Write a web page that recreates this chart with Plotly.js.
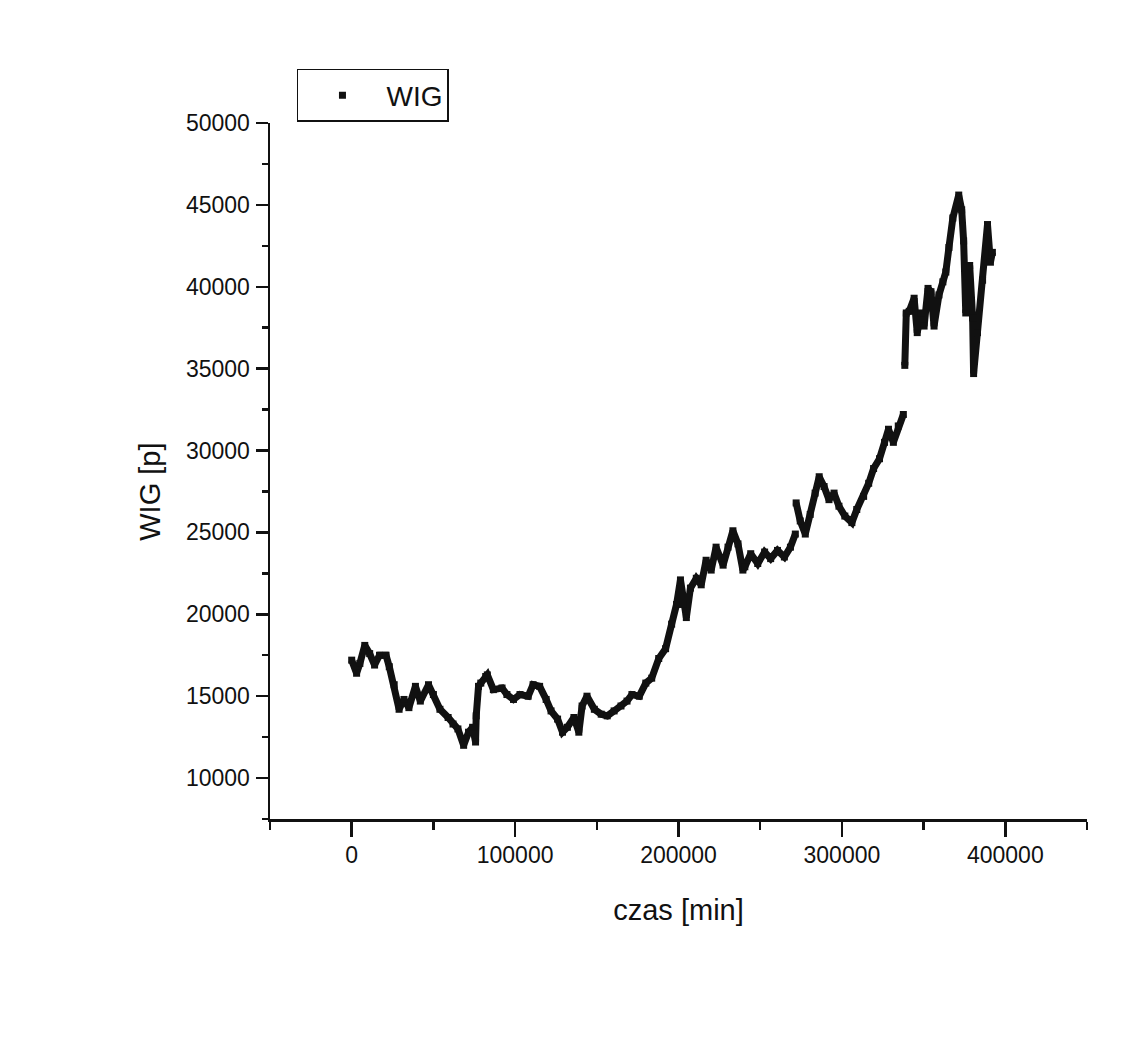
<!DOCTYPE html>
<html>
<head>
<meta charset="utf-8">
<script src="https://cdn.plot.ly/plotly-3.0.1.min.js"></script>
<style>
  html, body { margin: 0; padding: 0; background: #ffffff; }
  #chart { width: 1133px; height: 1059px; }
</style>
</head>
<body>
<div id="chart"></div>
<script>
// WIG index sampled over time (minutes); the record has two breaks.
const time1 = [0, 3000, 5000, 8000, 11000, 14000, 17000, 21000, 23000, 26000, 29000, 32000, 35000,
  39000, 42000, 47000, 50000, 54000, 59000, 62000, 65000, 68500, 71500, 74000, 75800, 76200, 77600,
  79000, 82000, 83000, 86700, 92000, 95000, 99000, 103000, 108000, 111000, 115000, 119000, 122000,
  126000, 129000, 132000, 136000, 139000, 141000, 144000, 148500, 152700, 156400, 160600, 164800,
  168500, 171500, 176000, 180000, 183600, 187900, 192100, 195800, 198800, 201200, 203000, 204800,
  207300, 210900, 213900, 216900, 220000, 223000, 227300, 230300, 233300, 236400, 239400, 240600,
  244200, 248500, 252700, 256400, 260600, 264800, 268500, 271500];
const wig1 = [17200, 16400, 17000, 18100, 17600, 16900, 17500, 17500, 16800, 15700, 14200, 14800, 14300,
  15600, 14700, 15700, 15100, 14200, 13700, 13300, 13000, 12000, 12800, 13100, 12200, 13800, 15600,
  15800, 16200, 16300, 15400, 15500, 15100, 14800, 15100, 15000, 15700, 15600, 14800, 14100,
  13600, 12800, 13100, 13700, 12800, 14400, 15000, 14200, 13900, 13800, 14100, 14400,
  14700, 15100, 15000, 15800, 16100, 17300, 17900, 19400, 20600, 22100, 20600, 19800,
  21600, 22200, 21800, 23300, 22700, 24100, 23000, 24100, 25100, 24300, 22700, 22900,
  23700, 23100, 23800, 23400, 23900, 23500, 24100, 24900];

const time2 = [272000, 274500, 277600, 280600, 283600, 286100, 289100, 292100, 295200, 298200, 301800,
  306100, 309100, 313300, 316400, 319400, 323000, 326100, 328500, 331500, 334500, 337600];
const wig2 = [26800, 25700, 24900, 26100, 27400, 28400, 27800, 27000, 27400, 26600, 26000,
  25600, 26400, 27200, 28000, 28900, 29500, 30500, 31300, 30500, 31500, 32200];

const time3 = [338500, 339400, 341200, 344200, 346100, 348500, 350300, 352700, 354500, 356400, 359400,
  361800, 363600, 365500, 367900, 371500, 373300, 374500, 375800, 378200, 380000, 380600, 383000,
  386100, 389100, 390900, 392100];
const wig3 = [35200, 38400, 38500, 39300, 37200, 38400, 37600, 39900, 39700, 37600, 39500,
  40300, 40900, 42400, 44200, 45600, 44700, 42800, 38400, 41300, 38100, 34700, 37200,
  40400, 43800, 41500, 42100];

// join the three pieces, leaving a gap at each break
const timeAll = [...time1, 271800, ...time2, 338000, ...time3];
const wigAll = [...wig1, null, ...wig2, null, ...wig3];

const ink = '#111111';
const textInk = '#111111';
const font = 'Liberation Sans, Arial, sans-serif';

const traces = [
  {
    x: timeAll, y: wigAll, type: 'scatter', mode: 'lines',
    line: { color: ink, width: 7 }, showlegend: false, hoverinfo: 'skip'
  },
  {
    x: timeAll, y: wigAll, type: 'scatter', mode: 'markers', name: 'WIG',
    marker: { symbol: 'square', size: 7, color: ink }
  }
];

const layout = {
  width: 1133, height: 1059,
  paper_bgcolor: '#ffffff', plot_bgcolor: '#ffffff',
  margin: { l: 270, r: 46, t: 123, b: 240 },
  font: { family: font, color: textInk, size: 23 },
  showlegend: true,
  legend: {
    x: 0.033, y: 1.0776, xanchor: 'left', yanchor: 'top',
    bordercolor: ink, borderwidth: 1.5, bgcolor: '#ffffff',
    font: { family: font, size: 28, color: textInk },
    itemwidth: 78
  },
  xaxis: {
    range: [-50000, 450000], dtick: 100000, tick0: 0,
    tickformat: 'd', exponentformat: 'none',
    showgrid: false, zeroline: false,
    showline: true, linecolor: ink, linewidth: 2.5,
    ticks: 'outside', ticklen: 15, tickwidth: 2.5, tickcolor: ink,
    minor: { dtick: 50000, tick0: 0, ticks: 'outside', ticklen: 8, tickwidth: 2.5, tickcolor: ink },
    tickfont: { family: font, size: 23, color: textInk },
    ticklabelstandoff: -1,
    title: { text: 'czas [min]', font: { family: font, size: 29, color: textInk }, standoff: 33 }
  },
  yaxis: {
    range: [7500, 50000], dtick: 5000, tick0: 0,
    tickformat: 'd', exponentformat: 'none',
    showgrid: false, zeroline: false,
    showline: true, linecolor: ink, linewidth: 2.5,
    ticks: 'outside', ticklen: 12, tickwidth: 2.5, tickcolor: ink,
    minor: { dtick: 2500, tick0: 0, ticks: 'outside', ticklen: 6, tickwidth: 2.5, tickcolor: ink },
    tickfont: { family: font, size: 23, color: textInk },
    ticklabelstandoff: 1
  },
  // vertical axis label, set slightly below the middle of the axis
  annotations: [{
    text: 'WIG [p]', xref: 'paper', yref: 'paper',
    x: -0.147, y: 0.47, xanchor: 'center', yanchor: 'middle',
    textangle: -90, showarrow: false,
    font: { family: font, size: 29, color: textInk }
  }]
};

Plotly.newPlot('chart', traces, layout, { displayModeBar: false, staticPlot: true });
</script>
</body>
</html>
